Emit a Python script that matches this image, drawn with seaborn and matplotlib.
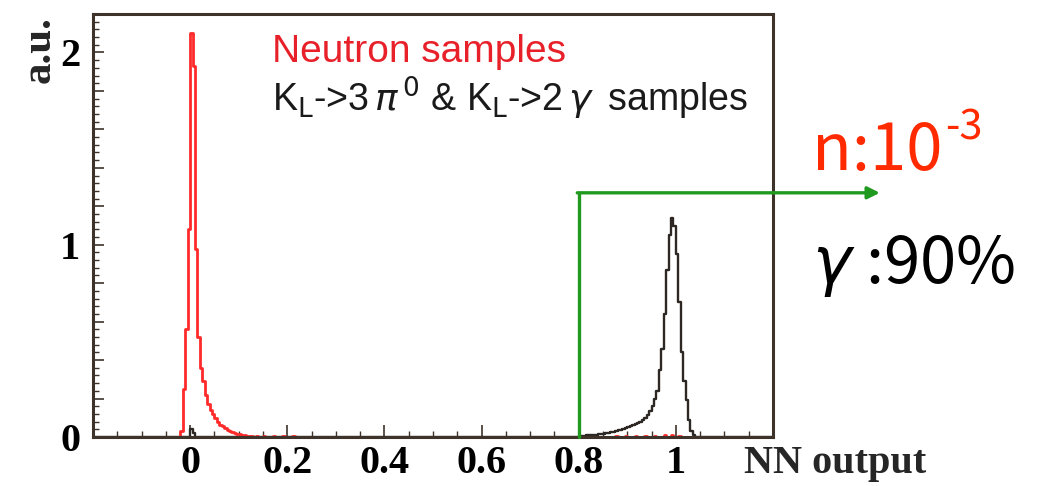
import numpy as np
import pandas as pd
import seaborn as sns
import matplotlib.pyplot as plt
from matplotlib.ticker import MultipleLocator, FuncFormatter

# bin centres (width 0.005) and heights
red_x = [-0.0175, -0.0125, -0.0075, -0.0025, 0.0025, 0.0075, 0.0125, 0.0175, 0.0225,
         0.0275, 0.0325, 0.0375, 0.0425, 0.0475, 0.0525, 0.0575, 0.0625, 0.0675,
         0.0725, 0.0775, 0.0825, 0.0875, 0.0925, 0.0975, 0.1025, 0.1075, 0.1125,
         0.1175, 0.1225, 0.1275, 0.1375, 0.1525, 0.1725, 0.1925, 0.2125,
         0.8775, 0.8975, 0.9175, 0.9375, 0.9575, 0.9775, 0.9925, 1.0075]
red_y = [0.03, 0.25, 0.56, 1.08, 2.10, 1.93, 0.98, 0.52, 0.36,
         0.29, 0.22, 0.17, 0.14, 0.12, 0.10, 0.08, 0.065, 0.055,
         0.045, 0.038, 0.032, 0.027, 0.022, 0.018, 0.014, 0.011, 0.009,
         0.007, 0.006, 0.005, 0.004, 0.004, 0.004, 0.003, 0.003,
         0.004, 0.005, 0.006, 0.006, 0.007, 0.008, 0.01, 0.006]

black_x = [0.0025, 0.0075,
           0.8025, 0.8075, 0.8125, 0.8175, 0.8225, 0.8275, 0.8325, 0.8375, 0.8425,
           0.8475, 0.8525, 0.8575, 0.8625, 0.8675, 0.8725, 0.8775, 0.8825, 0.8875,
           0.8925, 0.8975, 0.9025, 0.9075, 0.9125, 0.9175, 0.9225, 0.9275, 0.9325,
           0.9375, 0.9425, 0.9475, 0.9525, 0.9575, 0.9625, 0.9675, 0.9725, 0.9775,
           0.9825, 0.9875, 0.9925, 0.9975, 1.0025, 1.0075, 1.0125, 1.0175, 1.0225,
           1.0275, 1.0325, 1.0375]
black_y = [0.04, 0.02,
           0.005, 0.006, 0.007, 0.008, 0.009, 0.010, 0.011, 0.012, 0.014,
           0.016, 0.018, 0.020, 0.022, 0.025, 0.028, 0.031, 0.034, 0.037,
           0.041, 0.045, 0.050, 0.055, 0.060, 0.066, 0.073, 0.080, 0.088,
           0.10, 0.115, 0.135, 0.16, 0.20, 0.24, 0.35, 0.46, 0.64,
           0.87, 1.05, 1.14, 1.10, 0.95, 0.70, 0.44, 0.29, 0.19,
           0.09, 0.03, 0.01]

x_ticklabels = ['0', '0.2', '0.4', '0.6', '0.8', '1']
cut = 0.8
cut_height = 1.27

df = pd.concat([
    pd.DataFrame({'NN': black_x, 'w': black_y, 'sample': 'gamma'}),
    pd.DataFrame({'NN': red_x, 'w': red_y, 'sample': 'neutron'}),
])

sns.set_style('ticks')
plt.rcParams['mathtext.fontset'] = 'dejavusans'

fig = plt.figure(figsize=(10.47, 4.86), dpi=100)
ax = fig.add_axes([0.0888, 0.1008, 0.6495, 0.8704])

edges = [round(v, 4) for v in np.arange(-0.2, 1.2001, 0.005)]
frame = '#3d332b'
sns.histplot(data=df[df['sample'] == 'gamma'], x='NN', weights='w', bins=edges,
             element='step', fill=False, color='#2e2824', linewidth=1.7, ax=ax)
sns.histplot(data=df[df['sample'] == 'neutron'], x='NN', weights='w', bins=edges,
             element='step', fill=False, color='#ff2a2a', linewidth=2.0, ax=ax)

ax.set_xlim(-0.2, 1.2)
ax.set_ylim(0, 2.2)
ax.set_xlabel('')
ax.set_ylabel('')

ax.xaxis.set_major_locator(MultipleLocator(0.2))
ax.xaxis.set_minor_locator(MultipleLocator(0.05))
ax.xaxis.set_major_formatter(FuncFormatter(
    lambda v, p: x_ticklabels[int(round(v / 0.2))] if -0.01 < v < 1.01 else ''))
ax.yaxis.set_major_locator(MultipleLocator(0.2))
ax.yaxis.set_minor_locator(MultipleLocator(0.04))
ax.yaxis.set_major_formatter(FuncFormatter(
    lambda v, p: str(int(round(v))) if abs(v - round(v)) < 0.01 else ''))

ax.tick_params(axis='both', which='both', direction='in', colors=frame)
ax.tick_params(axis='x', which='major', length=9, width=1.2, pad=6)
ax.tick_params(axis='x', which='minor', length=4, width=1.0)
ax.tick_params(axis='y', which='major', length=8, width=1.2, pad=9)
ax.tick_params(axis='y', which='minor', length=4, width=1.0)
for lab in ax.get_xticklabels() + ax.get_yticklabels():
    lab.set_fontfamily('Liberation Serif')
    lab.set_fontweight('bold')
    lab.set_fontsize(29)
    lab.set_color('black')
for s in ax.spines.values():
    s.set_visible(True)
    s.set_color(frame)
    s.set_linewidth(2.2)

# cut line with arrow
ax.plot([cut, cut], [0, cut_height], color='#1f9a1f', lw=2.4, clip_on=False, zorder=5)
ax.annotate('', xy=(1.42, cut_height), xytext=(cut - 0.003, cut_height),
            xycoords='data', annotation_clip=False,
            arrowprops=dict(arrowstyle='-|>', color='#1f9a1f', lw=2.4,
                            mutation_scale=18, shrinkA=0, shrinkB=0))

ax.text(0.168, 1.95, 'Neutron samples', color='#e8202a', fontsize=28,
        family='Liberation Sans')
ax.text(0.168, 1.69, r'K$_{\rm L}$->3$\,\pi^{\,0}$ & K$_{\rm L}$->2$\,\gamma\,$ samples',
        color='#1a1a1a', fontsize=27, family='Liberation Sans')

t1 = ax.text(1.28, 1.39, 'n:10', color='#ff2a00', fontsize=47,
             family=['Noto Sans CJK JP', 'DejaVu Sans'])
ax.annotate('-3', xy=(1.02, 0.55), xycoords=t1, color='#ff2a00', fontsize=30,
            family=['Noto Sans CJK JP', 'DejaVu Sans'], va='bottom', ha='left')
ax.text(1.28, 0.8, r'$\gamma$ :90%', color='black', fontsize=47,
        family=['Noto Sans CJK JP', 'DejaVu Sans'])

fig.text(40 / 1047, 1 - 50 / 486, 'a.u.', rotation=90, ha='center', va='center',
         family='Liberation Serif', fontweight='bold', fontsize=31)
fig.text(835 / 1047, 1 - 463 / 486, 'NN output', ha='center', va='center',
         family='Liberation Serif', fontweight='bold', fontsize=29)

fig.savefig('out.png', dpi=100)
